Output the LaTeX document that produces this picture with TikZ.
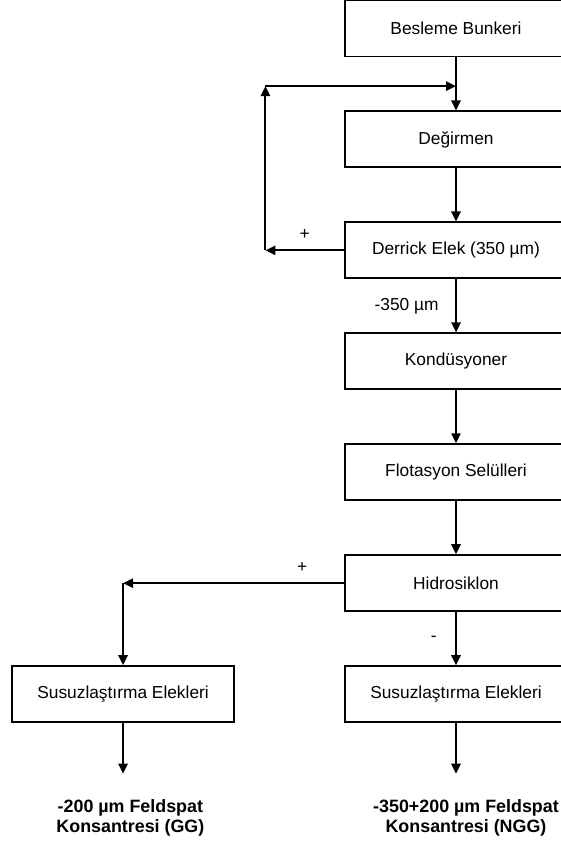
\documentclass[tikz,border=0pt]{standalone}
\usepackage{fontspec}
\setmainfont{Liberation Sans}
\usetikzlibrary{positioning,arrows.meta}

\begin{document}
\begin{tikzpicture}[
    x=0.75pt, y=-0.75pt,
    node distance=39.8pt,
    box/.style={rectangle, draw=black, line width=1.4pt, fill=white, minimum width=166.5pt, minimum height=42pt, text centered, font=\fontsize{13}{15.6}\selectfont},
    prod/.style={align=center, inner sep=0pt, font=\fontsize{13.4}{15}\selectfont\bfseries},
    lbl/.style={font=\fontsize{13}{15.6}\selectfont},
    arrow/.style={-{Triangle[length=7.5pt,width=7pt]}, line width=1.4pt}
]
\useasboundingbox (0,0) rectangle (560,841);

\node[box] (bunker) at (456,28.5) {Besleme Bunkeri};
\node[box, below=of bunker] (mill) {Değirmen};
\node[box, below=of mill] (derrick) {Derrick Elek (350 µm)};
\node[box, below=of derrick] (cond) {Kondüsyoner};
\node[box, below=of cond] (flot) {Flotasyon Selülleri};
\node[box, below=of flot] (hydro) {Hidrosiklon};
\node[box, below=of hydro] (dewR) {Susuzlaştırma Elekleri};
\node[box, left=81.8pt of dewR] (dewL) {Susuzlaştırma Elekleri};

% free ends and corners
\coordinate[below=21.5pt of bunker] (feed);
\coordinate[left=59pt of derrick] (back);
\coordinate (split) at (dewL |- hydro);
\coordinate[below=38pt of dewL] (endL);
\coordinate[below=38pt of dewR] (endR);

\node[prod, below=19pt of endL, xshift=5.5pt] (prodL) {-200 µm Feldspat\\Konsantresi (GG)};
\node[prod, below=19pt of endR, xshift=7.5pt] (prodR) {-350+200 µm Feldspat\\Konsantresi (NGG)};

\draw[arrow] (bunker) -- (mill);
\draw[arrow] (mill) -- (derrick);
\draw[arrow] (derrick.west) -- node[lbl, above=4pt]{+} (back);
\draw[arrow] (back) -- (back |- feed);
\draw[arrow] (back |- feed) -- (feed);
\draw[arrow] (derrick) -- node[lbl, left=9pt]{-350 µm} (cond);
\draw[arrow] (cond) -- (flot);
\draw[arrow] (flot) -- (hydro);
\draw[arrow] (hydro.west) -- node[lbl, above=4pt, pos=0.19]{+} (split);
\draw[arrow] (split) -- (dewL);
\draw[arrow] (hydro) -- node[lbl, left=10.5pt]{-} (dewR);
\draw[arrow] (dewL) -- (endL);
\draw[arrow] (dewR) -- (endR);
\end{tikzpicture}
\end{document}
